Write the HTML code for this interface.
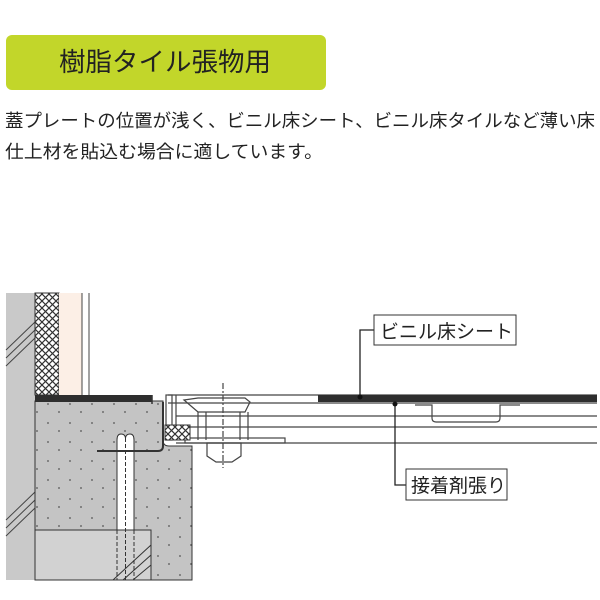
<!DOCTYPE html>
<html><head><meta charset="utf-8"><style>
html,body{margin:0;padding:0;background:#fff;width:600px;height:600px;overflow:hidden}
svg{display:block}
text{font-family:"Liberation Sans","Noto Sans CJK JP",sans-serif}
</style></head><body>
<svg width="600" height="600" viewBox="0 0 600 600" xmlns="http://www.w3.org/2000/svg">
<defs>
<pattern id="xh" width="7" height="7" patternUnits="userSpaceOnUse">
<rect width="7" height="7" fill="#fff"/>
<path d="M0 0L7 7M7 0L0 7" stroke="#333" stroke-width="1.2"/>
</pattern>
<pattern id="dots" width="22" height="19" patternUnits="userSpaceOnUse">
<rect width="22" height="19" fill="#c4c4c4"/>
<circle cx="4" cy="5" r="0.9" fill="#555"/><circle cx="15" cy="13" r="0.9" fill="#555"/>
</pattern>
</defs>
<rect x="6" y="35" width="320" height="55" rx="6" fill="#c2d62a"/>
<text x="59" y="71" font-size="26" textLength="212" lengthAdjust="spacingAndGlyphs" fill="#222">樹脂タイル張物用</text>
<text x="5" y="127" font-size="18" textLength="590" lengthAdjust="spacingAndGlyphs" fill="#222">蓋プレートの位置が浅く、ビニル床シート、ビニル床タイルなど薄い床</text>
<text x="5" y="158" font-size="18" textLength="318" lengthAdjust="spacingAndGlyphs" fill="#222">仕上材を貼込む場合に適しています。</text>

<!-- wall -->
<rect x="6" y="293" width="29" height="287" fill="#c9c9c9"/>
<g stroke="#444" stroke-width="1">
<path d="M6 350L35 322M6 358L35 330M6 366L35 338"/>
<path d="M6 520L35 492M6 528L35 500M6 536L35 508"/>
</g>
<rect x="35" y="293" width="24" height="102" fill="url(#xh)" stroke="#333"/>
<rect x="59" y="293" width="23" height="102" fill="#fcefe6"/>
<path d="M82 293V395M89 293V395" stroke="#444"/>
<!-- concrete -->
<path d="M35 401H163V440Q163 446 169 446H192V580H35Z" fill="url(#dots)" stroke="#333"/>
<rect x="35" y="530" width="116" height="50" fill="#d2d2d2" stroke="#333"/>
<g stroke="#333" stroke-width="1"><path d="M113 580L151 545M123 580L151 555M133 580L151 565"/></g>
<path d="M117 530V440Q117 434 121 434Q125 434 125.5 438Q126 434 130 434Q134 434 134 440V530Z" fill="#fff" stroke="#333"/>
<path d="M125.5 438V580" stroke="#333" stroke-dasharray="4 2"/>
<path d="M117 530V580M134 530V580" stroke="#333" stroke-dasharray="4 2"/>
<path d="M97 451H158Q163 451 163 446V402" fill="none" stroke="#333" stroke-width="2"/>
<rect x="35" y="395" width="117" height="7" fill="#2e2e2e"/>
<path d="M152 395V404" stroke="#333" stroke-width="1.5"/>
<!-- frame -->
<g stroke="#444" stroke-width="1.2" fill="none">
<rect x="166" y="395" width="6" height="45"/>
<path d="M168 395H597M168 403H318M318 403H597M176 416H597M176 427H597M176 443H597"/>
<path d="M176 395V427"/>
<path d="M415 405H432V418Q432 422 436 422H496Q500 422 500 418V405H520"/>
<path d="M184 400L198 398H245L250 402L245 412H198Z"/>
<path d="M198 412V440M206 412V440M240 412V440M248 412V440"/>
<rect x="185" y="438" width="100" height="5"/>
<path d="M207 443H241V456L232 462H216L207 456Z"/>
<path d="M223 383V468" stroke-dasharray="6 2 2 2"/>
</g>
<rect x="165" y="425" width="25" height="15" fill="url(#xh)" stroke="#333"/>
<rect x="318" y="395" width="279" height="7" fill="#2e2e2e"/>
<!-- leaders -->
<g stroke="#222" stroke-width="1.3" fill="none">
<path d="M360 397V330H374"/>
<path d="M395 403V485H406"/>
</g>
<circle cx="360" cy="397" r="2.5" fill="#111"/>
<circle cx="395" cy="404" r="2.5" fill="#111"/>
<rect x="374" y="315" width="142" height="30" fill="#fff" stroke="#333"/>
<text x="380" y="338" font-size="19" fill="#222">ビニル床シート</text>
<rect x="406" y="469" width="101" height="31" fill="#fff" stroke="#333"/>
<text x="411" y="492" font-size="19" fill="#222">接着剤張り</text>
</svg>
</body></html>
